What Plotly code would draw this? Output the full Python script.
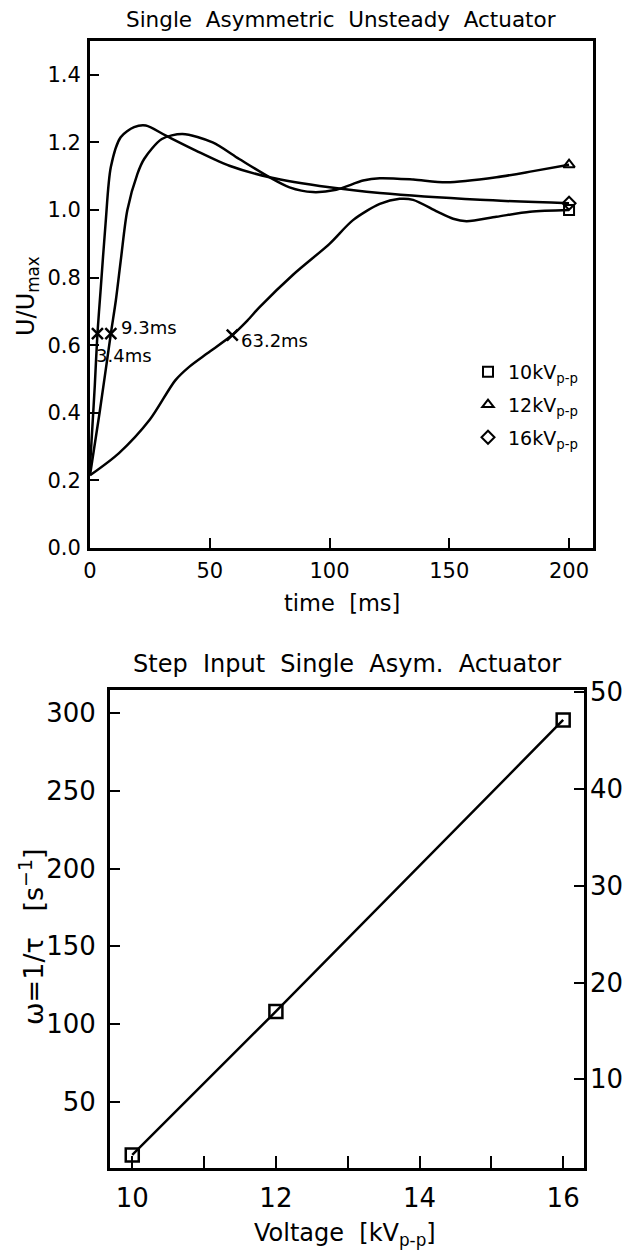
import plotly.graph_objects as go

# ---------------- data: top chart ----------------
t_10kv = [0, 12, 25, 35.6, 41.4, 49, 59.4, 65.7, 70.7, 85, 100, 109.8, 121, 129.3, 134.9, 145, 151.6, 157.2, 169.7, 183.7, 200]
u_10kv = [0.215, 0.28, 0.38, 0.496, 0.536, 0.576, 0.63, 0.673, 0.712, 0.81, 0.90, 0.97, 1.018, 1.033, 1.03, 0.995, 0.974, 0.967, 0.98, 0.995, 1.0]

t_12kv = [0, 4, 8.7, 10.8, 13, 15.6, 19.8, 22.6, 30, 38.6, 51.2, 62.3, 74.9, 83.3, 93, 102.8, 114, 121, 135, 148.8, 169.7, 185, 200]
u_12kv = [0.215, 0.40, 0.634, 0.733, 0.86, 1.0, 1.107, 1.151, 1.21, 1.225, 1.20, 1.151, 1.097, 1.067, 1.053, 1.06, 1.087, 1.094, 1.09, 1.082, 1.097, 1.115, 1.134]

t_16kv = [0, 1, 2, 3.1, 4.4, 6.5, 8.7, 12.8, 18.4, 23.3, 31.7, 44.2, 58.2, 74.9, 100, 121, 162.8, 200]
u_16kv = [0.24, 0.36, 0.48, 0.634, 0.76, 0.96, 1.127, 1.215, 1.245, 1.25, 1.22, 1.176, 1.131, 1.097, 1.067, 1.05, 1.03, 1.02]

tau_t = [3.1, 8.7, 59.4]
tau_u = [0.634, 0.634, 0.63]
tau_labels = ["3.4ms", "9.3ms", "63.2ms"]

legend_names = ["10kV<sub>p-p</sub>", "12kV<sub>p-p</sub>", "16kV<sub>p-p</sub>"]

# ---------------- data: bottom chart ----------------
voltage = [10, 12, 16]
omega = [15.6, 108, 295.7]

FONT = "DejaVu Sans"
BLACK = "black"

fig = go.Figure()

# top curves
for t, u in [(t_10kv, u_10kv), (t_12kv, u_12kv), (t_16kv, u_16kv)]:
    fig.add_trace(go.Scatter(x=t, y=u, mode="lines", line=dict(color=BLACK, width=2.5, shape="spline", smoothing=0.8),
                             showlegend=False, hoverinfo="skip", xaxis="x", yaxis="y"))

# end markers (also legend entries)
symbols = ["square-open", "triangle-up-open", "diamond-open"]
for i, ((t, u), sym, name) in enumerate(zip([(t_10kv, u_10kv), (t_12kv, u_12kv), (t_16kv, u_16kv)], symbols, legend_names)):
    fig.add_trace(go.Scatter(x=[t[-1]], y=[u[-1]], mode="markers", name=name, legendgroup=f"g{i}",
                             marker=dict(symbol=sym, size=10, color=BLACK, line=dict(width=2, color=BLACK)),
                             xaxis="x", yaxis="y"))

# tau markers
fig.add_trace(go.Scatter(x=tau_t, y=tau_u, mode="markers", showlegend=False,
                         marker=dict(symbol="x-thin-open", size=11, line=dict(width=2.5, color=BLACK), color=BLACK),
                         xaxis="x", yaxis="y"))

# bottom line
fig.add_trace(go.Scatter(x=voltage, y=omega, mode="lines+markers", showlegend=False,
                         line=dict(color=BLACK, width=2.5),
                         marker=dict(symbol="square-open", size=13, color=BLACK, line=dict(width=2.5, color=BLACK)),
                         xaxis="x2", yaxis="y2"))
# helper for right axis
fig.add_trace(go.Scatter(x=[voltage[0]], y=[10], mode="markers", showlegend=False, hoverinfo="skip",
                         marker=dict(opacity=0), xaxis="x2", yaxis="y3"))

ax_common = dict(showline=True, linecolor=BLACK, linewidth=3, mirror=True, ticks="inside", automargin=False,
                 tickcolor=BLACK, tickwidth=2, showgrid=False, zeroline=False)

top_dom_x = [90 / 626, 593 / 626]
top_dom_y = [1 - 548 / 1256, 1 - 41 / 1256]
bot_dom_x = [110 / 626, 584 / 626]
bot_dom_y = [1 - 1168 / 1256, 1 - 690 / 1256]

fig.update_layout(
    width=626, height=1256, margin=dict(l=0, r=0, t=0, b=0, autoexpand=False),
    paper_bgcolor="white", plot_bgcolor="white",
    font=dict(family=FONT, color=BLACK),
    xaxis=dict(**ax_common, domain=top_dom_x, anchor="y", range=[0, 210], tickvals=[0, 50, 100, 150, 200],
               ticklen=10, tickfont=dict(size=21), ticklabelstandoff=2),
    yaxis=dict(**ax_common, domain=top_dom_y, anchor="x", range=[0, 1.5], tickvals=[0, 0.2, 0.4, 0.6, 0.8, 1.0, 1.2, 1.4],
               tickformat=".1f", ticklen=9, tickfont=dict(size=21), ticklabelstandoff=2),
    xaxis2=dict(**ax_common, domain=bot_dom_x, anchor="y2", range=[9.69, 16.29], tickvals=[10, 12, 14, 16],
                ticklen=12, tickfont=dict(size=26), ticklabelstandoff=5,
                minor=dict(tickvals=[11, 13, 15], ticks="inside", ticklen=12, tickwidth=2, tickcolor=BLACK)),
    yaxis2=dict(**ax_common, domain=bot_dom_y, anchor="x2", range=[7.2, 315], tickvals=[50, 100, 150, 200, 250, 300],
                ticklen=10, tickfont=dict(size=26), ticklabelstandoff=6),
    yaxis3=dict(showline=False, ticks="inside", tickcolor=BLACK, tickwidth=2, ticklen=10, showgrid=False, zeroline=False,
                automargin=False, overlaying="y2", side="right", anchor="x2", range=[0.85, 50.2], tickvals=[10, 20, 30, 40, 50],
                tickfont=dict(size=26), ticklabelstandoff=5),
    legend=dict(x=468 / 626, y=1 - 353 / 1256, xanchor="left", yanchor="top", bgcolor="rgba(0,0,0,0)",
                font=dict(size=19, family=FONT), itemwidth=30, tracegroupgap=5),
    showlegend=True,
)

ann = []
# tau labels
shifts = [(-3, -22), (8, 6), (7, -5)]
for tx, ty, lab, (dx, dy) in zip(tau_t, tau_u, tau_labels, shifts):
    ann.append(dict(x=tx, y=ty, xref="x", yref="y", text=lab, showarrow=False, xanchor="left", yanchor="middle",
                    xshift=dx, yshift=dy, font=dict(size=18, family=FONT)))
# titles
ann.append(dict(x=341 / 626, y=1 - 20 / 1256, xref="paper", yref="paper", text="Single  Asymmetric  Unsteady  Actuator",
                showarrow=False, xanchor="center", yanchor="middle", font=dict(size=21.5, family=FONT)))
ann.append(dict(x=347 / 626, y=1 - 664 / 1256, xref="paper", yref="paper", text="Step  Input  Single  Asym.  Actuator",
                showarrow=False, xanchor="center", yanchor="middle", font=dict(size=24, family=FONT)))
# axis titles
ann.append(dict(x=342 / 626, y=1 - 603 / 1256, xref="paper", yref="paper", text="time  [ms]",
                showarrow=False, xanchor="center", yanchor="middle", font=dict(size=22.5, family=FONT)))
ann.append(dict(x=28 / 626, y=1 - 296 / 1256, xref="paper", yref="paper", text="U/U<sub>max</sub>", textangle=-90,
                showarrow=False, xanchor="center", yanchor="middle", font=dict(size=24, family=FONT)))
ann.append(dict(x=345 / 626, y=1 - 1234 / 1256, xref="paper", yref="paper", text="Voltage  [kV<sub>p-p</sub>]",
                showarrow=False, xanchor="center", yanchor="middle", font=dict(size=24, family=FONT)))
ann.append(dict(x=31 / 626, y=1 - 937 / 1256, xref="paper", yref="paper", text="ω=1/τ   [s<sup>−1</sup>]", textangle=-90,
                showarrow=False, xanchor="center", yanchor="middle", font=dict(size=27, family=FONT)))
fig.update_layout(annotations=ann)

fig.write_html("out.html")
